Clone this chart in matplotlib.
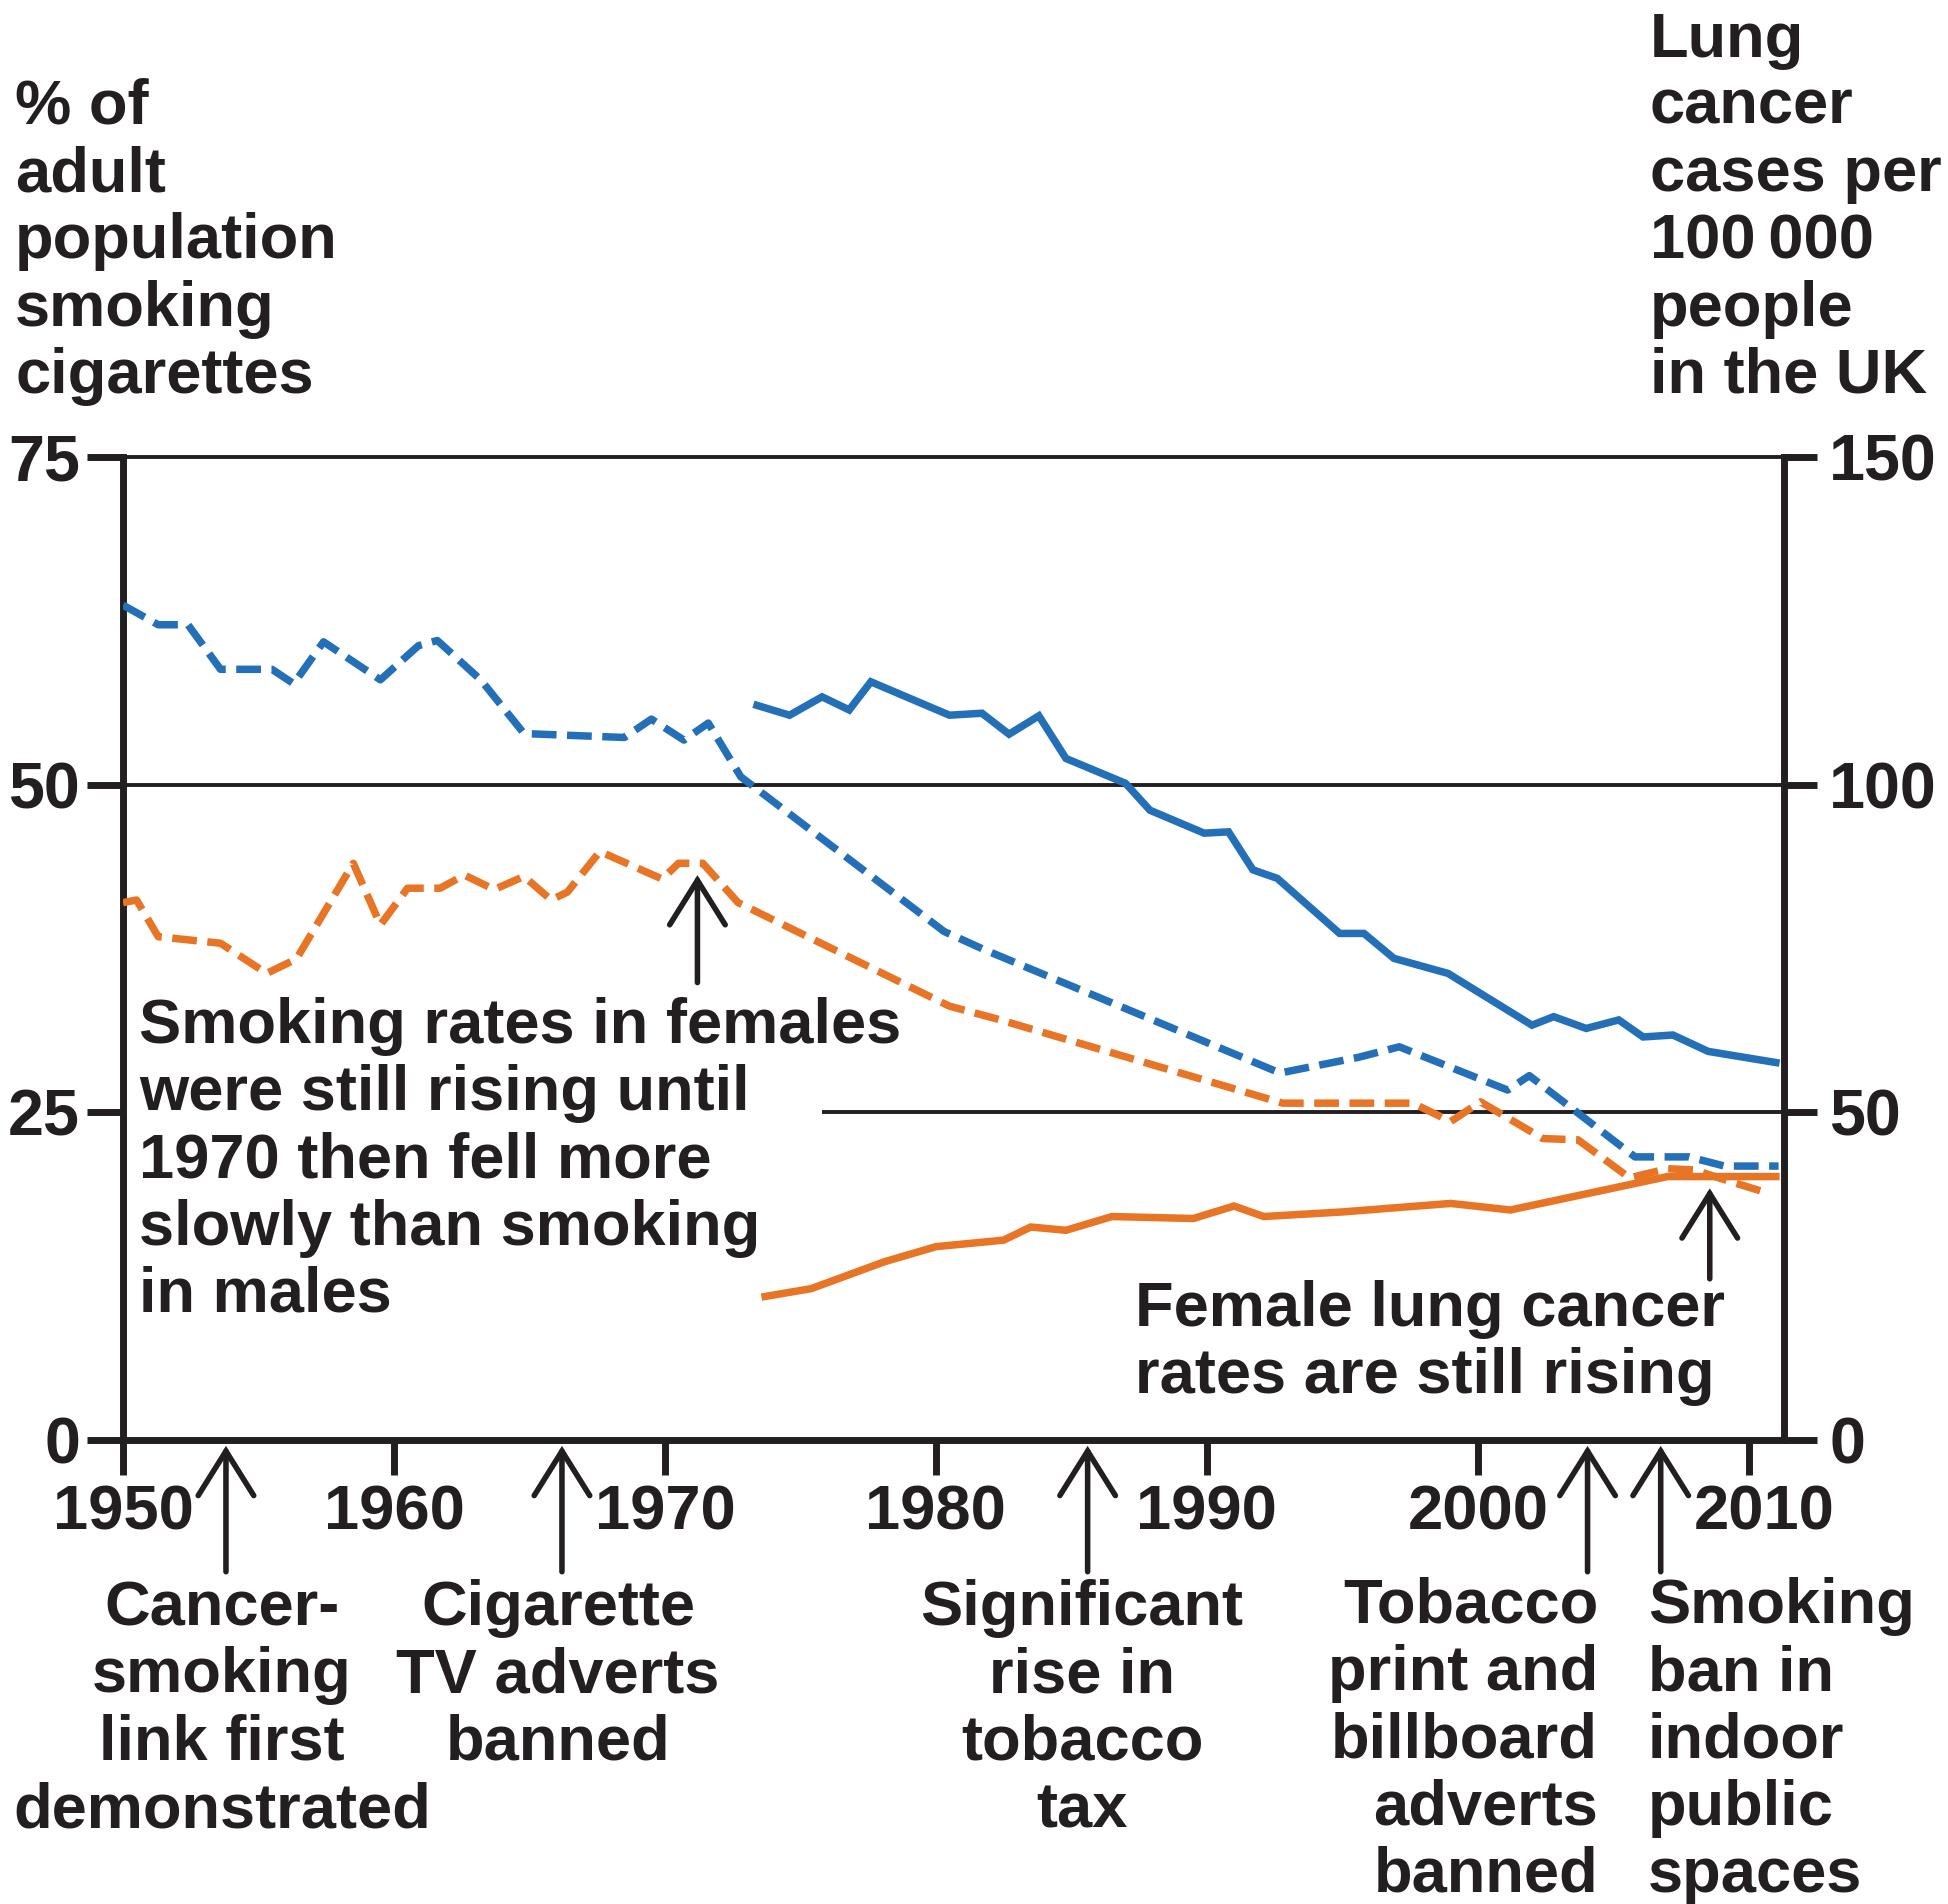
import matplotlib
matplotlib.use("Agg")
import matplotlib.pyplot as plt
from matplotlib.transforms import ScaledTranslation

# ---------------- data ----------------
male_smoke_year = [1950.0, 1951.3, 1952.4, 1953.6, 1955.5, 1956.3, 1957.4, 1959.5, 1960.9,
                   1961.6, 1963.2, 1964.8, 1968.5, 1969.5, 1970.7, 1971.6, 1972.8, 1980.3,
                   1981.8, 1992.7, 1995.6, 1997.1, 2001.1, 2001.9, 2005.8, 2007.8, 2009.1, 2011.1]
male_smoke_pct = [63.7, 62.2, 62.2, 58.8, 58.8, 57.7, 60.9, 58.0, 60.6,
                  61.0, 58.0, 53.9, 53.6, 55.0, 53.4, 54.7, 50.6, 38.8,
                  37.4, 28.0, 29.2, 30.0, 26.7, 27.8, 21.6, 21.6, 20.9, 20.9]

female_smoke_year = [1950.0, 1950.5, 1951.3, 1953.6, 1955.3, 1956.4, 1958.5, 1959.5, 1960.5,
                     1961.7, 1962.6, 1963.7, 1964.8, 1965.8, 1966.4, 1967.6, 1969.9, 1970.5,
                     1971.4, 1972.7, 1980.5, 1982.3, 1992.8, 1997.6, 1999.0, 2000.1, 2002.4,
                     2003.7, 2005.6, 2007.0, 2008.0, 2009.2, 2010.6]
female_smoke_pct = [41.0, 41.2, 38.4, 37.9, 35.6, 36.7, 44.0, 39.3, 42.1,
                    42.1, 43.1, 42.0, 43.0, 41.2, 41.8, 44.9, 42.8, 44.0,
                    44.0, 41.0, 33.1, 32.1, 25.7, 25.7, 24.3, 25.8, 23.0,
                    22.9, 20.0, 20.7, 20.6, 19.8, 18.9]

male_cancer_year = [1973.4, 1974.6, 1975.8, 1976.8, 1977.6, 1980.5, 1981.7, 1982.7, 1983.8,
                    1984.8, 1987.0, 1987.9, 1989.9, 1990.8, 1991.7, 1992.6, 1994.9, 1995.8,
                    1996.9, 1998.9, 2002.0, 2002.8, 2004.0, 2005.2, 2006.1, 2007.2, 2008.5, 2011.0]
male_cancer_rate = [112.1, 110.6, 113.4, 111.4, 115.7, 110.6, 110.9, 107.7, 110.5,
                    104.0, 100.2, 96.1, 92.6, 92.8, 87.0, 85.7, 77.3, 77.3,
                    73.5, 71.2, 63.3, 64.6, 62.8, 64.1, 61.5, 61.8, 59.3, 57.6]

female_cancer_year = [1973.7, 1975.4, 1978.1, 1980.0, 1982.5, 1983.5, 1984.8, 1986.5, 1989.5,
                      1991.0, 1992.1, 1995.0, 1999.0, 2001.2, 2007.0, 2011.0]
female_cancer_rate = [21.9, 23.1, 27.2, 29.5, 30.5, 32.5, 32.0, 34.1, 33.8,
                      35.7, 34.1, 34.8, 36.1, 35.1, 40.2, 40.2]

left_ticks = [0, 25, 50, 75]
right_ticks = [0, 50, 100, 150]
x_ticks = [1950, 1960, 1970, 1980, 1990, 2000, 2010]

event_years = [1953.8, 1966.2, 1985.6, 2004.05, 2006.75]
event_labels = ["Cancer-\nsmoking\nlink first\ndemonstrated",
                "Cigarette\nTV adverts\nbanned",
                "Significant\nrise in\ntobacco\ntax",
                "Tobacco\nprint and\nbillboard\nadverts\nbanned",
                "Smoking\nban in\nindoor\npublic\nspaces"]

left_title = "% of\nadult\npopulation\nsmoking\ncigarettes"
right_title = "Lung\ncancer\ncases per\n100\u2009000\npeople\nin the UK"
female_note = ("Smoking rates in females\nwere still rising until\n1970 then fell more\n"
               "slowly than smoking\nin males")
cancer_note = "Female lung cancer\nrates are still rising"

# ---------------- style ----------------
W, H, DPI = 1948, 1904, 100
INK = "#231f20"
BLUE = "#2370b9"
ORANGE = "#e87526"
FAM = ["Liberation Sans", "DejaVu Sans"]
FS = 45.5
LS = 1.18

plt.rcParams["font.family"] = FAM
plt.rcParams["font.weight"] = "bold"


def fx(px):
    return px / W


def fy(py):
    return 1 - py / H


fig = plt.figure(figsize=(W / DPI, H / DPI), dpi=DPI)
L, R, T, B = 123, 1784, 457, 1440
ax = fig.add_axes([fx(L), fy(B), (R - L) / W, (B - T) / H])
ax2 = ax.twinx()

ax.set_xlim(1950, 2011.3)
ax.set_ylim(0, 75)
ax2.set_ylim(0, 150)

# spines
for a in (ax, ax2):
    for s in a.spines.values():
        s.set_color(INK)
ax.spines["left"].set_linewidth(5)
ax.spines["bottom"].set_linewidth(5)
ax.spines["top"].set_linewidth(2.8)
ax.spines["right"].set_visible(False)
ax2.spines["right"].set_linewidth(5)
for k in ("left", "bottom", "top"):
    ax2.spines[k].set_visible(False)
ax2.patch.set_visible(False)

# grid lines
ax.axhline(50, color=INK, lw=2.8, zorder=1)
grid25_start = 1975.8
ax.hlines(25, grid25_start, ax.get_xlim()[1], color=INK, lw=2.8, zorder=1)

# ticks
ax.set_xticks(x_ticks)
ax.set_yticks(left_ticks)
ax2.set_yticks(right_ticks)
ax.tick_params(axis="x", direction="out", length=25, width=5, pad=6,
               labelsize=FS, colors=INK, top=False)
ax.tick_params(axis="y", direction="out", length=26, width=5, pad=5,
               labelsize=46.5, colors=INK, right=False)
ax2.tick_params(axis="y", direction="out", length=24, width=5, pad=8.5,
                labelsize=46.5, colors=INK)
for lab in ax.get_xticklabels() + ax.get_yticklabels() + ax2.get_yticklabels():
    lab.set_fontweight("bold")

# the last year label sits a little to the right of its tick in the reference
last_lab = ax.get_xticklabels()[-1]
last_lab.set_transform(last_lab.get_transform() +
                       ScaledTranslation(15 / DPI, 0, fig.dpi_scale_trans))

# data lines
LW = 5.4
DASH = (3.3, 1.4)
ax.plot(male_smoke_year, male_smoke_pct, color=BLUE, lw=LW, dashes=DASH, zorder=3)
ax.plot(female_smoke_year, female_smoke_pct, color=ORANGE, lw=LW, dashes=DASH, zorder=3)
ax2.plot(male_cancer_year, male_cancer_rate, color=BLUE, lw=LW, solid_joinstyle="miter", zorder=3)
ax2.plot(female_cancer_year, female_cancer_rate, color=ORANGE, lw=LW, solid_joinstyle="miter", zorder=3)

# arrows
AP = dict(arrowstyle="->,head_length=0.4,head_width=0.25", lw=4, color=INK,
          mutation_scale=80, shrinkA=0, shrinkB=0, joinstyle="miter")
ax.annotate("", xy=(1971.2, 43.1), xytext=(1971.2, 34.9), arrowprops=AP)
ax.annotate("", xy=(2008.56, 19.2), xytext=(2008.56, 12.3), arrowprops=AP)
for yr in event_years:
    ax.annotate("", xy=(yr, -0.006), xytext=(yr, -0.134),
                xycoords=("data", "axes fraction"), textcoords=("data", "axes fraction"),
                arrowprops=AP, annotation_clip=False)

# texts
TK = dict(fontsize=FS, color=INK, fontweight="bold", linespacing=LS, va="baseline")
fig.text(fx(15), fy(393), left_title, ha="left", **TK)
fig.text(fx(1650), fy(393), right_title, ha="left", **TK)
fig.text(fx(139), fy(1312), female_note, ha="left", **TK)
fig.text(fx(1135), fy(1393), cancer_note, ha="left", **TK)

event_text_x = [222, 558, 1082, 1598, 1648]
event_text_ha = ["center", "center", "center", "right", "left"]
event_last_baseline = [1827, 1760, 1827, 1892, 1892]
for lab, xx, ha, yb in zip(event_labels, event_text_x, event_text_ha, event_last_baseline):
    fig.text(fx(xx), fy(yb), lab, ha=ha, multialignment=ha, **TK)

fig.savefig("out.png", dpi=DPI)
